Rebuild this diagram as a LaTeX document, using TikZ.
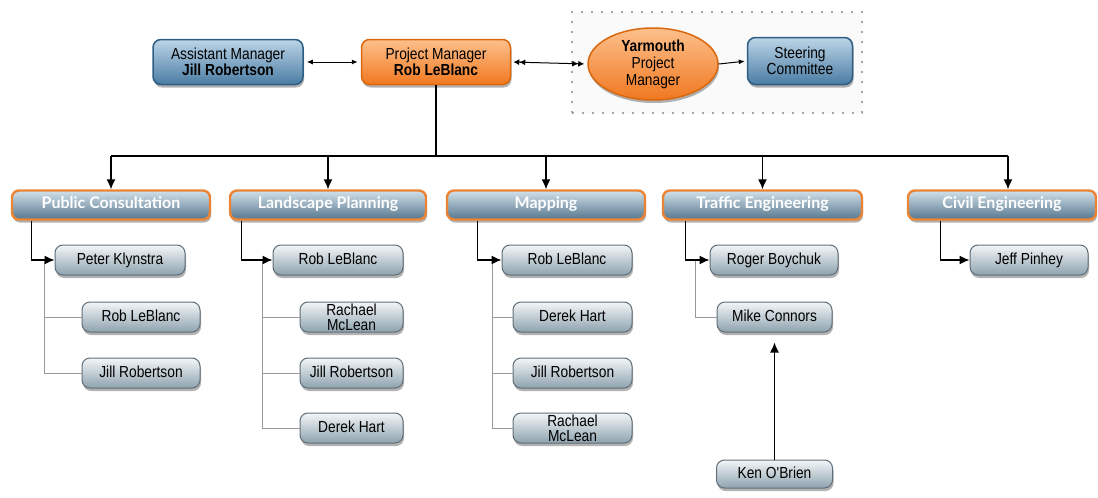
\documentclass[tikz,border=0pt]{standalone}
\usepackage{fontspec}
\setmainfont{Liberation Sans}
\newfontfamily\narrowfont{Liberation Sans}[FakeStretch=0.86]
\newfontfamily\headfont{Lato}
\usetikzlibrary{arrows.meta,shapes.geometric,shadows}
\definecolor{hdorange}{HTML}{EC8436}
\definecolor{hdtop}{HTML}{D3E1EA}
\definecolor{hdbot}{HTML}{55778E}
\definecolor{chtop}{HTML}{F3F6F8}
\definecolor{chbot}{HTML}{8EA2AE}
\definecolor{chborder}{HTML}{5F6E78}
\definecolor{bltop}{HTML}{BCD5E8}
\definecolor{blbot}{HTML}{4A7CA3}
\definecolor{blborder}{HTML}{2E5D83}
\definecolor{ortop}{HTML}{FDC08C}
\definecolor{orbot}{HTML}{F07820}
\definecolor{orborder}{HTML}{D9680F}
\definecolor{greyline}{HTML}{999999}
\begin{document}
\begin{tikzpicture}[x=1pt,y=-1pt,
  shad/.style={drop shadow={shadow xshift=1pt,shadow yshift=-3pt,opacity=0.3,fill=black}},
  headbox/.style={rectangle,rounded corners=7pt,draw=hdorange,line width=2.4pt,
    top color=hdtop,bottom color=hdbot,minimum height=29pt,inner sep=0pt,
    text height=11pt,text depth=3.5pt,
    text=white,font=\headfont\bfseries\fontsize{16}{16}\selectfont,shad},
  childbase/.style={rectangle,rounded corners=8pt,draw=chborder,line width=1pt,
    top color=chtop,bottom color=chbot,minimum height=30pt,inner sep=0pt,align=center,
    text=black,font=\narrowfont\fontsize{16}{15}\selectfont,shad},
  childbox/.style={childbase,text height=11.5pt,text depth=3.5pt},
  bluebox/.style={rectangle,rounded corners=8pt,draw=blborder,line width=1.5pt,
    top color=bltop,bottom color=blbot,inner sep=0pt,align=center,
    text=black,font=\narrowfont\fontsize{16}{16}\selectfont,shad},
  orangebox/.style={rectangle,rounded corners=8pt,draw=orborder,line width=1.5pt,
    top color=ortop,bottom color=orbot,inner sep=0pt,align=center,
    text=black,font=\narrowfont\fontsize{16}{16}\selectfont,shad},
  groupbox/.style={rectangle,draw=gray!70,line width=2pt,dash pattern=on 2pt off 8pt,
    fill=gray!4,inner sep=0pt},
  conn/.style={line width=1.3pt,draw=black},
  gconn/.style={line width=1pt,draw=greyline},
  tip/.style={-{Latex[length=10pt,width=9pt]}},
  smalltip/.style={-{Latex[length=6pt,width=5pt]}},
  dbl/.style={{Latex[length=6pt,width=6pt]Latex[length=6pt,width=6pt]}-{Latex[length=6pt,width=6pt]Latex[length=6pt,width=6pt]}}
]
\useasboundingbox (0,0) rectangle (1098,498);

% top row
\node[groupbox,minimum width=290pt,minimum height=101pt] (grp) at (717,62.5) {};
\node[bluebox,minimum width=150pt,minimum height=45pt] (am) at (228,62) {Assistant Manager\\\textbf{Jill Robertson}};
\node[orangebox,minimum width=149pt,minimum height=45pt] (pm) at (436,62) {Project Manager\\\textbf{Rob LeBlanc}};
\node[ellipse,draw=orborder,line width=1.5pt,top color=ortop,bottom color=orbot,
  minimum width=130pt,minimum height=72pt,inner sep=0pt,align=center,
  text=black,font=\narrowfont\fontsize{16}{17}\selectfont,shad] (yar) at (653,64)
  {\textbf{Yarmouth}\\Project\\Manager};
\node[bluebox,minimum width=105pt,minimum height=47pt] (sc) at (800,61) {Steering\\Committee};

\draw[conn,line width=1pt,{Latex[length=6pt,width=5pt]}-{Latex[length=6pt,width=5pt]},shorten <=3pt,shorten >=3pt] (am) -- (pm);
\draw[conn,line width=1pt,dbl,shorten <=2pt,shorten >=3pt] (pm.east) -- (yar.west);
\draw[conn,line width=1pt,smalltip,shorten >=2pt] (yar.east) -- (sc.west);

% headers
\node[headbox,minimum width=198pt] (pc) at (111,205) {Public Consultation};
\node[headbox,minimum width=196pt] (lp) at (328,205) {Landscape Planning};
\node[headbox,minimum width=198pt] (mp) at (546,205) {Mapping};
\node[headbox,minimum width=199pt] (te) at (762.5,205) {Traffic Engineering};
\node[headbox,minimum width=188pt] (ce) at (1002,205) {Civil Engineering};

\coordinate (bus) at (436,156);
\draw[conn] (pm.south) -- (bus);
\draw[conn] (bus -| pc.north) -- ([xshift=6pt]bus -| ce.north);
\draw[conn,tip] (bus -| pc.north) -- (pc.north);
\draw[conn,tip] (bus -| lp.north) -- (lp.north);
\draw[conn,tip] (bus -| mp.north) -- (mp.north);
\draw[conn,tip] (bus -| te.north) -- (te.north);
\draw[conn,tip] ([xshift=6pt]bus -| ce.north) -- ([xshift=6pt]ce.north);

% Public Consultation
\node[childbox,minimum width=130pt] (pc1) at (120,260) {Peter Klynstra};
\node[childbox,minimum width=118pt] (pc2) at (141,317) {Rob LeBlanc};
\node[childbox,minimum width=118pt] (pc3) at (141,373) {Jill Robertson};
\draw[gconn] ([xshift=-10pt]pc1.west) |- (pc2.west);
\draw[gconn] ([xshift=-10pt]pc1.west) |- (pc3.west);
\draw[conn,tip] ([xshift=21pt]pc.south west) |- (pc1.west);

% Landscape Planning
\node[childbox,minimum width=130pt] (lp1) at (338,260) {Rob LeBlanc};
\node[childbase,minimum width=103pt] (lp2) at (351.5,317) {Rachael\\McLean};
\node[childbox,minimum width=103pt] (lp3) at (351.5,373) {Jill Robertson};
\node[childbox,minimum width=103pt] (lp4) at (351.5,428) {Derek Hart};
\draw[gconn] ([xshift=-10pt]lp1.west) |- (lp2.west);
\draw[gconn] ([xshift=-10pt]lp1.west) |- (lp3.west);
\draw[gconn] ([xshift=-10pt]lp1.west) |- (lp4.west);
\draw[conn,tip] ([xshift=13pt]lp.south west) |- (lp1.west);

% Mapping
\node[childbox,minimum width=130pt] (mp1) at (567,260) {Rob LeBlanc};
\node[childbox,minimum width=119pt] (mp2) at (572.5,317) {Derek Hart};
\node[childbox,minimum width=119pt] (mp3) at (572.5,373) {Jill Robertson};
\node[childbase,minimum width=119pt] (mp4) at (572.5,428) {Rachael\\McLean};
\draw[gconn] ([xshift=-9pt]mp1.west) |- (mp2.west);
\draw[gconn] ([xshift=-9pt]mp1.west) |- (mp3.west);
\draw[gconn] ([xshift=-9pt]mp1.west) |- (mp4.west);
\draw[conn,tip] ([xshift=32pt]mp.south west) |- (mp1.west);

% Traffic Engineering
\node[childbox,minimum width=128pt] (te1) at (774,260) {Roger Boychuk};
\node[childbox,minimum width=115pt] (te2) at (774.5,317) {Mike Connors};
\node[childbox,minimum width=116pt,minimum height=28pt] (te3) at (774.5,474) {Ken O'Brien};
\draw[gconn] ([xshift=-14pt]te1.west) |- (te2.west);
\draw[conn,tip] ([xshift=24pt]te.south west) |- (te1.west);
\draw[conn,tip,shorten >=10pt] (te3.north) -- (te2.south);

% Civil Engineering
\node[childbox,minimum width=118pt] (ce1) at (1029,260) {Jeff Pinhey};
\draw[conn,tip] ([xshift=34pt]ce.south west) |- (ce1.west);
\end{tikzpicture}
\end{document}
